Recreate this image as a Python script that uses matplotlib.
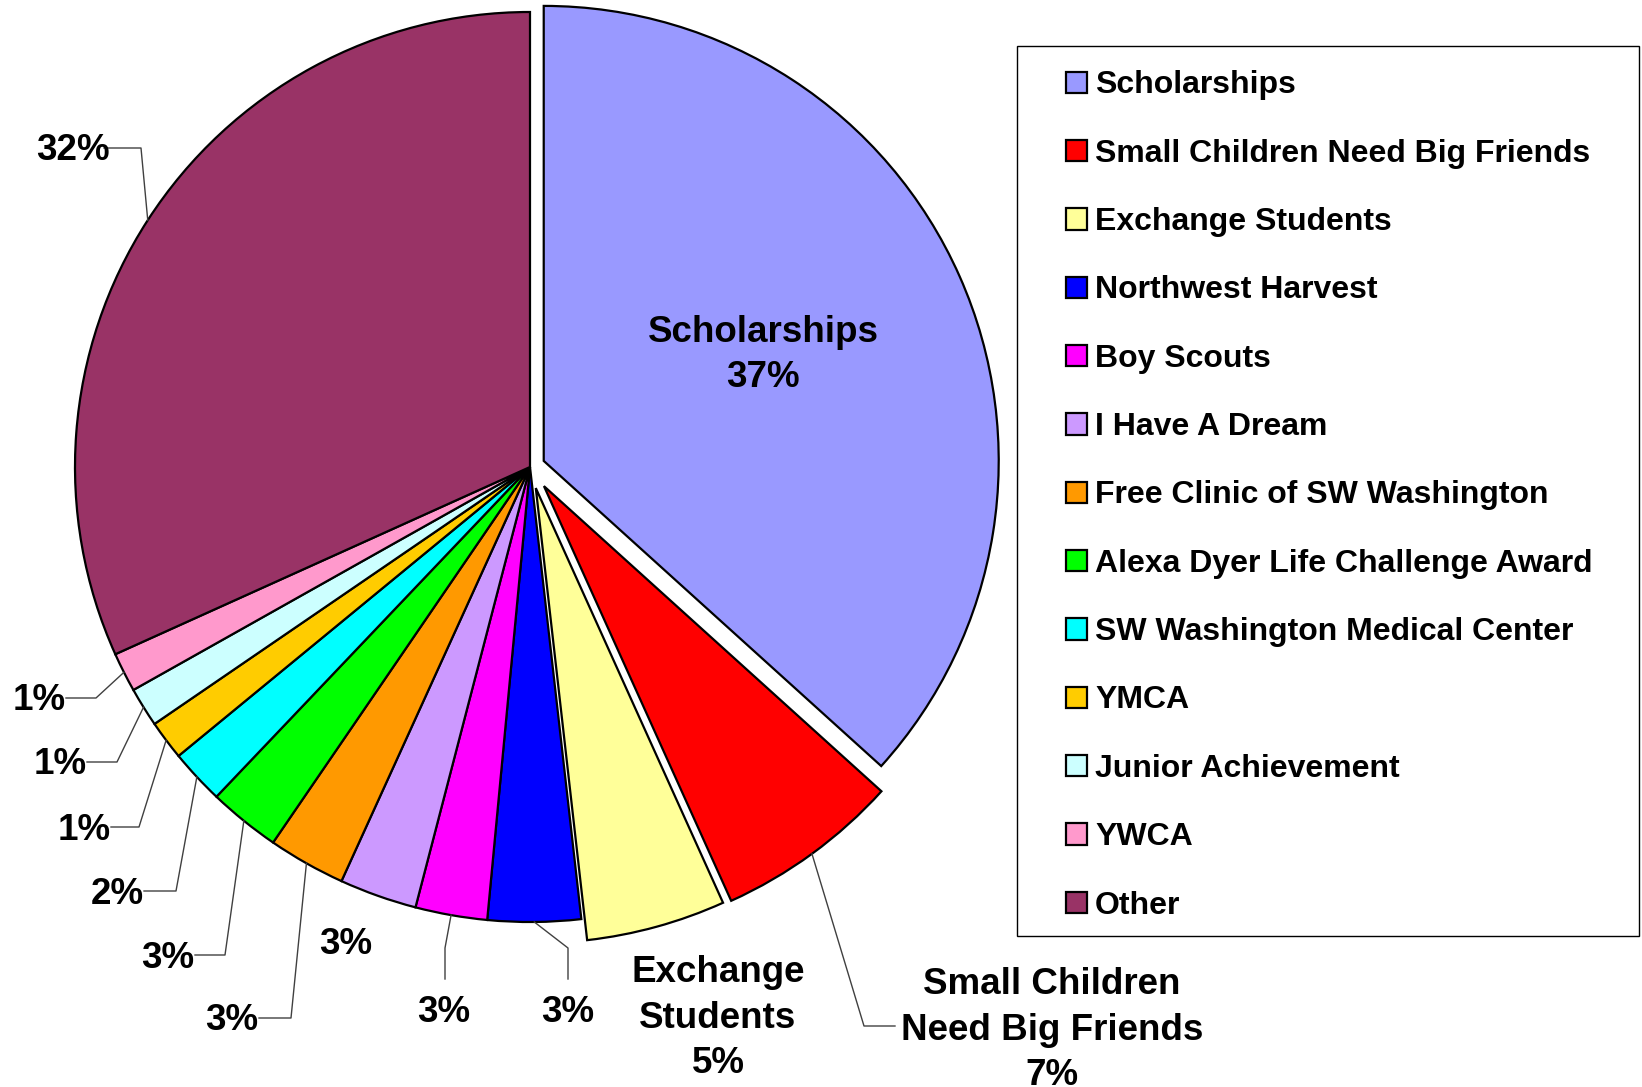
import matplotlib
matplotlib.use("Agg")
import matplotlib.pyplot as plt
from matplotlib.patches import Rectangle
import numpy as np

plt.rcParams['font.family'] = ['Liberation Sans', 'DejaVu Sans']
plt.rcParams['font.weight'] = 'bold'

# ---- data ----
categories = ["Scholarships", "Small Children Need Big Friends", "Exchange Students",
              "Northwest Harvest", "Boy Scouts", "I Have A Dream",
              "Free Clinic of SW Washington", "Alexa Dyer Life Challenge Award",
              "SW Washington Medical Center", "YMCA", "Junior Achievement", "YWCA", "Other"]
values = [36.7, 6.55, 4.95, 3.3, 2.55, 2.75, 2.75, 2.55, 1.95, 1.4, 1.4, 1.4, 31.75]
colors = ["#9999FF", "#FF0000", "#FFFF99", "#0000FF", "#FF00FF", "#CC99FF", "#FF9900",
          "#00FF00", "#00FFFF", "#FFCC00", "#CCFFFF", "#FF99CC", "#993366"]
explode = [0.033, 0.052, 0.048, 0, 0, 0, 0, 0, 0, 0, 0, 0, 0]

W, H = 1642, 1087
def Y(y):
    return H - y

fig = plt.figure(figsize=(W / 100, H / 100), dpi=100)
ax = fig.add_axes([0, 0, 1, 1])

cx, cy, R = 530, Y(467), 455
wedges, _ = ax.pie(values, colors=colors, explode=[e * R for e in explode],
                   startangle=90, counterclock=False, center=(cx, cy), radius=R,
                   wedgeprops=dict(edgecolor="black", linewidth=1.6))
ax.set_xlim(0, W)
ax.set_ylim(0, H)
ax.set_aspect('equal')
ax.axis('off')

pct = [f"{v:.0f}%" for v in values]
FS = 26.5
LS = 1.38
DY = 3  # small vertical correction for glyph centring

# layout for labels: (text x, text y, elbow list) in pixel coords from top-left
layout = {
    12: dict(t=(73, 148), path=[(141, 148)]),
    11: dict(t=(39, 698), path=[(96, 698)]),
    10: dict(t=(60, 762), path=[(117, 762)]),
    9: dict(t=(84, 827), path=[(139, 827)]),
    8: dict(t=(117, 891), path=[(176, 891)]),
    7: dict(t=(168, 955), path=[(225, 955)]),
    6: dict(t=(232, 1018), path=[(291, 1018)]),
    5: dict(t=(346, 942), path=None),
    4: dict(t=(444, 1009), path=[(445, 979), (445, 948)]),
    3: dict(t=(568, 1009), path=[(568, 979), (568, 948)]),
}

def edge_point(w):
    ang = np.deg2rad((w.theta1 + w.theta2) / 2)
    x0, y0 = w.center
    return x0 + w.r * np.cos(ang), y0 + w.r * np.sin(ang)

line_kw = dict(color="#404040", lw=1.0, zorder=1)
for i, lay in layout.items():
    tx, ty = lay['t']
    ax.text(tx, Y(ty + DY), pct[i], ha='center', va='center', fontsize=FS,
            fontweight='bold')
    if lay['path']:
        pts = [(x, Y(y)) for x, y in lay['path']]
        ex, ey = edge_point(wedges[i])
        xs = [p[0] for p in pts] + [ex]
        ys = [p[1] for p in pts] + [ey]
        if i >= 6:
            xs = [tx + 27 + (4 if i == 12 else 0)] + xs
            ys = [Y(ty)] + ys
        ax.plot(xs, ys, **line_kw)

# Inside label for Scholarships
ax.text(763, Y(355), f"{categories[0]}\n{pct[0]}", ha='center', va='center',
        fontsize=FS, fontweight='bold', linespacing=LS)
# Exchange students label
ax.text(718, Y(1018), "Exchange\nStudents\n" + pct[2], ha='center', va='center',
        fontsize=FS, fontweight='bold', linespacing=LS)
# Small children label
ax.text(1052, Y(1030), "Small Children\nNeed Big Friends\n" + pct[1], ha='center',
        va='center', fontsize=FS, fontweight='bold', linespacing=LS)
ex, ey = edge_point(wedges[1])
ax.plot([ex, 864, 895], [ey, Y(1026), Y(1026)], **line_kw)

# legend frame
ax.add_patch(Rectangle((1017, Y(936)), 1639 - 1017, 936 - 46, fill=False,
                       edgecolor="black", linewidth=1.0, zorder=0))
leg = fig.legend(wedges, categories, loc='upper left',
                 bbox_to_anchor=(1066 / W, Y(70.5) / H), frameon=False,
                 prop=dict(size=23, weight='bold'), handlelength=0.66,
                 handleheight=0.66, handletextpad=0.25, labelspacing=1.20,
                 borderpad=0, borderaxespad=0)

fig.savefig("out.png", dpi=100)
